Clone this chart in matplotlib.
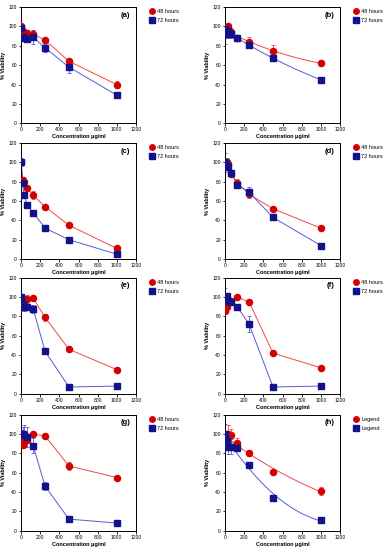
import numpy as np
import matplotlib
matplotlib.use('Agg')
import matplotlib.pyplot as plt

plt.rcParams['font.family'] = ['Liberation Sans', 'DejaVu Sans']

# concentrations (ug/ml) shared by all panels
CONC = [0, 15.6, 31.25, 62.5, 125, 250, 500, 1000]

PANELS = ['(a)', '(b)', '(c)', '(d)', '(e)', '(f)', '(g)', '(h)']

V48 = [
    [100, 95, 91, 93, 92, 86, 64, 40],
    [92, 93, 100, 94, 88, 84, 75, 62],
    [100, 82, 80, 73, 66, 54, 35, 11],
    [98, 100, 98, 88, 79, 67, 52, 32],
    [100, 98, 96, 98, 99, 79, 46, 25],
    [86, 90, 94, 96, 100, 95, 42, 27],
    [94, 89, 95, 94, 100, 98, 67, 55],
    [89, 90, 100, 99, 91, 80, 61, 41],
]
E48 = [
    [3, 3, 3, 3, 4, 2, 2, 4],
    [10, 4, 4, 4, 3, 5, 6, 3],
    [3, 3, 3, 3, 4, 2, 2, 1],
    [4, 4, 3, 2, 4, 3, 1, 1],
    [2, 3, 3, 4, 2, 4, 2, 1],
    [2, 2, 2, 2, 1, 1, 1, 1],
    [3, 3, 3, 3, 2, 2, 4, 1],
    [4, 4, 9, 6, 5, 3, 2, 4],
]
V72 = [
    [98, 89, 88, 87, 89, 78, 58, 29],
    [97, 92, 95, 92, 88, 81, 67, 45],
    [100, 79, 66, 56, 48, 32, 20, 5],
    [100, 96, 95, 89, 77, 69, 43, 14],
    [100, 93, 90, 90, 88, 44, 7, 8],
    [99, 101, 96, 95, 90, 72, 7, 8],
    [100, 100, 99, 97, 88, 46, 12, 8],
    [100, 93, 87, 87, 86, 68, 34, 11],
]
E72 = [
    [4, 3, 3, 3, 7, 4, 6, 3],
    [6, 4, 4, 4, 3, 2, 2, 2],
    [4, 2, 2, 2, 2, 2, 2, 1],
    [10, 4, 3, 2, 3, 6, 1, 1],
    [3, 4, 4, 3, 4, 2, 1, 1],
    [10, 3, 3, 2, 2, 8, 1, 1],
    [4, 7, 10, 10, 8, 4, 2, 1],
    [10, 8, 8, 8, 3, 2, 2, 1],
]
LABELS = [('48 hours', '72 hours')] * 7 + [('Legend', 'Legend')]
FITTED = ['(b)', '(h)']   # these panels show a smooth fitted curve

RED_M, RED_L = '#d40000', '#f04848'
BLUE_M, BLUE_L = '#12128a', '#5a5ad6'

fig = plt.figure(figsize=(3.85, 5.5), dpi=100)
lefts = [0.055, 0.585]
bottoms = [0.776, 0.529, 0.284, 0.035]
W, H = 0.298, 0.211

for i, name in enumerate(PANELS):
    ax = fig.add_axes([lefts[i % 2], bottoms[i // 2], W, H])
    x = np.array(CONC)
    for vals, errs, mc, lc, mk, lab in [
        (V48[i], E48[i], RED_M, RED_L, 'o', LABELS[i][0]),
        (V72[i], E72[i], BLUE_M, BLUE_L, 's', LABELS[i][1]),
    ]:
        y = np.array(vals)
        if name in FITTED:
            coef = np.polyfit(x, y, 2)
            xs = np.linspace(0, 1000, 200)
            ax.plot(xs, np.polyval(coef, xs), color=lc, lw=0.7, zorder=1)
        else:
            ax.plot(x, y, color=lc, lw=0.7, zorder=1)
        ax.errorbar(x, y, yerr=errs, fmt='none', ecolor=lc, elinewidth=0.6,
                    capsize=1.5, capthick=0.6, zorder=2)
        ax.plot(x, y, ls='none', marker=mk, ms=4.4, color=mc, label=lab, zorder=3)
    ax.set_xlim(0, 1200)
    ax.set_ylim(0, 120)
    ax.set_xticks(range(0, 1201, 200))
    ax.set_yticks(range(0, 121, 20))
    ax.tick_params(labelsize=3.6, length=1.8, width=0.6, pad=1.2)
    for s in ax.spines.values():
        s.set_linewidth(0.7)
    ax.set_xlabel('Concentration μg/ml', fontsize=4, fontweight='bold', labelpad=1.5)
    ax.set_ylabel('% Viability', fontsize=4, fontweight='bold', labelpad=1.5)
    ax.text(0.95, 0.93, name, transform=ax.transAxes, ha='right', va='center',
            fontsize=5.5, fontweight='bold')
    ax.legend(loc='upper left', bbox_to_anchor=(1.1, 1.0), frameon=False,
              fontsize=4, handlelength=1.0, handletextpad=0.4, labelspacing=0.7,
              borderaxespad=0, markerscale=0.9)

fig.savefig('out.png', dpi=100)
